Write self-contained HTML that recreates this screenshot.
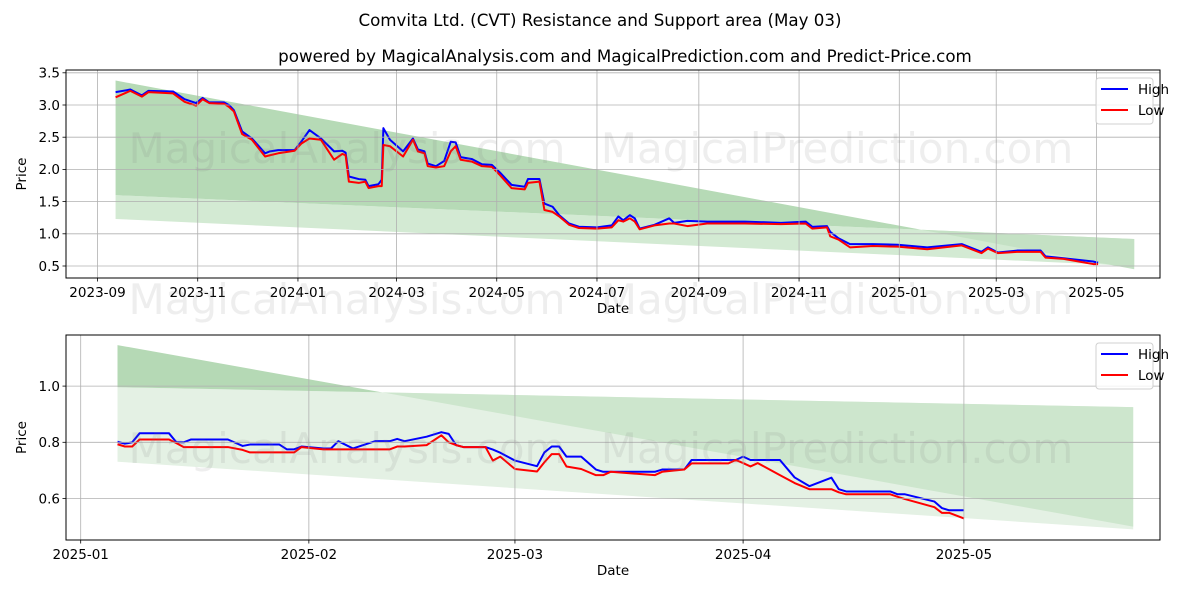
<!DOCTYPE html>
<html><head><meta charset="utf-8">
<style>
html,body{margin:0;padding:0;background:#fff;}
svg{display:block;font-family:"DejaVu Sans","Liberation Sans",sans-serif;}
</style></head>
<body>
<svg id="chart" width="1200" height="600" viewBox="0 0 1200 600" xmlns="http://www.w3.org/2000/svg">
<text x="600" y="26" text-anchor="middle" font-size="16.7" fill="#000">Comvita Ltd. (CVT) Resistance and Support area (May 03)</text>
<text x="625" y="62" text-anchor="middle" font-size="16.7" fill="#000">powered by MagicalAnalysis.com and MagicalPrediction.com and Predict-Price.com</text>
<g id="top"></g>
<g id="bot"></g>
</svg>
<script>
// ---------- Top chart data ----------
const topDates = ["2023-09-12","2023-09-21","2023-09-28","2023-10-02","2023-10-17","2023-10-24","2023-10-31","2023-11-04","2023-11-08","2023-11-17","2023-11-20","2023-11-23","2023-11-28","2023-12-04","2023-12-12","2023-12-15","2023-12-20","2023-12-30","2024-01-03","2024-01-08","2024-01-15","2024-01-23","2024-01-28","2024-01-30","2024-02-01","2024-02-07","2024-02-11","2024-02-13","2024-02-19","2024-02-21","2024-02-22","2024-02-26","2024-03-05","2024-03-11","2024-03-14","2024-03-18","2024-03-20","2024-03-25","2024-03-30","2024-04-03","2024-04-06","2024-04-09","2024-04-16","2024-04-22","2024-04-28","2024-05-03","2024-05-10","2024-05-18","2024-05-20","2024-05-27","2024-05-30","2024-06-04","2024-06-08","2024-06-14","2024-06-20","2024-07-01","2024-07-10","2024-07-14","2024-07-17","2024-07-21","2024-07-24","2024-07-27","2024-08-05","2024-08-14","2024-08-17","2024-08-25","2024-09-06","2024-09-29","2024-10-21","2024-11-05","2024-11-09","2024-11-18","2024-11-20","2024-11-25","2024-12-02","2024-12-16","2024-12-31","2025-01-18","2025-02-08","2025-02-20","2025-02-24","2025-03-02","2025-03-14","2025-03-28","2025-03-31","2025-04-11","2025-04-29","2025-05-02"];
const topHigh = [3.20,3.24,3.15,3.22,3.21,3.09,3.03,3.11,3.04,3.04,3.00,2.92,2.59,2.48,2.25,2.28,2.30,2.30,2.43,2.61,2.48,2.28,2.29,2.26,1.89,1.85,1.84,1.74,1.77,1.84,2.64,2.46,2.28,2.48,2.31,2.28,2.09,2.05,2.13,2.43,2.42,2.19,2.16,2.08,2.07,1.95,1.76,1.73,1.85,1.85,1.47,1.42,1.29,1.16,1.11,1.10,1.13,1.27,1.21,1.29,1.24,1.08,1.14,1.24,1.17,1.20,1.19,1.19,1.17,1.19,1.11,1.12,1.03,0.93,0.84,0.84,0.83,0.79,0.84,0.72,0.79,0.71,0.74,0.74,0.65,0.62,0.57,0.55];
const topLow = [3.12,3.22,3.13,3.20,3.18,3.05,2.99,3.09,3.03,3.02,2.97,2.90,2.55,2.46,2.20,2.22,2.25,2.29,2.40,2.48,2.46,2.15,2.24,2.22,1.81,1.79,1.81,1.71,1.74,1.74,2.38,2.36,2.20,2.46,2.28,2.25,2.05,2.03,2.05,2.28,2.36,2.15,2.12,2.05,2.04,1.91,1.71,1.69,1.79,1.81,1.37,1.34,1.27,1.14,1.09,1.08,1.10,1.21,1.19,1.24,1.19,1.07,1.13,1.16,1.16,1.12,1.16,1.16,1.15,1.16,1.08,1.10,0.96,0.91,0.79,0.81,0.80,0.76,0.82,0.70,0.77,0.70,0.72,0.72,0.63,0.61,0.53,0.53];
const topTicksY = [0.5,1.0,1.5,2.0,2.5,3.0,3.5];
const topTicksX = ["2023-09","2023-11","2024-01","2024-03","2024-05","2024-07","2024-09","2024-11","2025-01","2025-03","2025-05"];
const topBandDates = ["2023-09-12","2025-05-24"];
const topBandA = [3.38,0.45];
const topBandB = [1.60,0.92];
const topBandC = [1.23,0.50];

// ---------- Bottom chart data ----------
const botDates = ["2025-01-06","2025-01-07","2025-01-08","2025-01-09","2025-01-13","2025-01-14","2025-01-15","2025-01-16","2025-01-21","2025-01-23","2025-01-24","2025-01-28","2025-01-29","2025-01-30","2025-01-31","2025-02-03","2025-02-04","2025-02-05","2025-02-07","2025-02-10","2025-02-12","2025-02-13","2025-02-14","2025-02-17","2025-02-19","2025-02-20","2025-02-21","2025-02-22","2025-02-25","2025-02-26","2025-02-27","2025-03-01","2025-03-04","2025-03-05","2025-03-06","2025-03-07","2025-03-08","2025-03-10","2025-03-12","2025-03-13","2025-03-14","2025-03-20","2025-03-21","2025-03-24","2025-03-25","2025-03-30","2025-03-31","2025-04-01","2025-04-02","2025-04-03","2025-04-06","2025-04-08","2025-04-10","2025-04-13","2025-04-14","2025-04-15","2025-04-21","2025-04-22","2025-04-23","2025-04-27","2025-04-28","2025-04-29","2025-05-01"];
const botHigh = [0.802,0.795,0.800,0.832,0.832,0.800,0.800,0.810,0.810,0.787,0.792,0.792,0.775,0.775,0.785,0.778,0.778,0.804,0.778,0.804,0.804,0.812,0.804,0.820,0.836,0.830,0.790,0.783,0.783,0.774,0.763,0.735,0.715,0.764,0.785,0.785,0.749,0.749,0.703,0.695,0.695,0.695,0.703,0.703,0.737,0.737,0.737,0.749,0.737,0.737,0.737,0.675,0.644,0.674,0.633,0.625,0.625,0.615,0.615,0.589,0.566,0.558,0.558];
const botLow = [0.793,0.785,0.785,0.810,0.810,0.797,0.783,0.783,0.783,0.773,0.764,0.764,0.764,0.764,0.783,0.775,0.775,0.775,0.775,0.775,0.775,0.785,0.785,0.790,0.825,0.800,0.790,0.783,0.783,0.735,0.749,0.705,0.696,0.729,0.758,0.758,0.714,0.705,0.683,0.683,0.695,0.683,0.695,0.703,0.725,0.725,0.737,0.726,0.714,0.726,0.683,0.655,0.633,0.633,0.622,0.615,0.615,0.606,0.598,0.569,0.549,0.549,0.529];
const botTicksY = [0.6,0.8,1.0];
const botTicksX = ["2025-01","2025-02","2025-03","2025-04","2025-05"];
const botBandDates = ["2025-01-06","2025-05-24"];
const botBandA = [1.146,0.50];
const botBandB = [0.996,0.925];
const botBandC = [0.731,0.49];

const NS = "http://www.w3.org/2000/svg";
function mk(parent, tag, attrs){ const e=document.createElementNS(NS,tag); for(const k in attrs) e.setAttribute(k,attrs[k]); parent.appendChild(e); return e; }
function dnum(s){ const p=s.split("-").map(Number); return Date.UTC(p[0],p[1]-1,p[2]||1)/86400000; }

function drawPanel(g, cfg){
  const {L,R,T,B,x0date,x0px,pxPerDay,y0v,y0px,pxPerUnit} = cfg;
  const X = d => x0px + (dnum(d)-dnum(x0date))*pxPerDay;
  const Y = v => y0px - (v-y0v)*pxPerUnit;
  const clipId = cfg.id+"clip";
  const defs = mk(g,"defs",{});
  const cp = mk(defs,"clipPath",{id:clipId});
  mk(cp,"rect",{x:L,y:T,width:R-L,height:B-T});
  const plot = mk(g,"g",{"clip-path":"url(#"+clipId+")"});
  
  
  const xs = cfg.bandDates.map(X);
  const A = cfg.bandA, Bb = cfg.bandB, C = cfg.bandC;
  const light = mk(plot,"polygon",{points:[[xs[0],Y(Bb[0])],[xs[1],Y(Bb[1])],[xs[1],Y(C[1])],[xs[0],Y(C[0])]].map(p=>p.join(",")).join(" "),fill:cfg.lightColor});
  
  
  const d0 = A[0]-Bb[0], d1 = A[1]-Bb[1];
  const t = d0/(d0-d1);
  const xc = xs[0]+t*(xs[1]-xs[0]);
  const vc = Bb[0]+t*(Bb[1]-Bb[0]);
  const pre = mk(plot,"polygon",{points:[[xs[0],Y(A[0])],[xc,Y(vc)],[xs[0],Y(Bb[0])]].map(p=>p.join(",")).join(" "),fill:cfg.darkColor});
  
  
  const post = mk(plot,"polygon",{points:[[xc,Y(vc)],[xs[1],Y(Bb[1])],[xs[1],Y(A[1])]].map(p=>p.join(",")).join(" "),fill:cfg.midColor});
  
  
  cfg.ticksY.forEach(v=>{
    const gl = mk(g,"line",{x1:L,x2:R,y1:Y(v),y2:Y(v),stroke:"#b0b0b0","stroke-width":0.8});
    
    
    mk(g,"line",{x1:L-3.5,x2:L,y1:Y(v),y2:Y(v),stroke:"#000","stroke-width":0.8});
    const tl = mk(g,"text",{x:L-6,y:Y(v)+4.8,"text-anchor":"end","font-size":13.5,fill:"#000"});
    tl.textContent = v.toFixed(1);
    
    
  });
  cfg.ticksX.forEach(s=>{
    const x = X(s+"-01");
    const gl = mk(g,"line",{x1:x,x2:x,y1:T,y2:B,stroke:"#b0b0b0","stroke-width":0.8});
    
    
    mk(g,"line",{x1:x,x2:x,y1:B,y2:B+3.5,stroke:"#000","stroke-width":0.8});
    const tl = mk(g,"text",{x:x,y:B+19,"text-anchor":"middle","font-size":13.5,fill:"#000"});
    tl.textContent = s;
    
    
  });
  cfg.wm.forEach(w=>{
    const t2 = mk(g,"text",{x:w[1],y:w[2],"text-anchor":"middle","font-size":42,fill:"rgba(120,120,120,0.13)"});
    t2.textContent = w[0];
    
    
  });
  const hp = mk(plot,"polyline",{points:cfg.dates.map((d,i)=>X(d)+","+Y(cfg.high[i])).join(" "),fill:"none",stroke:"#0000ff","stroke-width":2,"stroke-linejoin":"round"});
  
  
  const lp = mk(plot,"polyline",{points:cfg.dates.map((d,i)=>X(d)+","+Y(cfg.low[i])).join(" "),fill:"none",stroke:"#ff0000","stroke-width":2,"stroke-linejoin":"round"});
  
  
  const fr = mk(g,"rect",{x:L,y:T,width:R-L,height:B-T,fill:"none",stroke:"#000","stroke-width":1});
  
  
  const xl = mk(g,"text",{x:(L+R)/2,y:B+35,"text-anchor":"middle","font-size":13.5,fill:"#000"});
  xl.textContent="Date";
  
  
  const yl = mk(g,"text",{x:0,y:0,"text-anchor":"middle","font-size":13.5,fill:"#000",transform:"translate(26,"+((T+B)/2)+") rotate(-90)"});
  yl.textContent="Price";
  
  
  const lg = mk(g,"g",{});
  
  
  const ly = T+8;
  mk(lg,"rect",{x:1096,y:ly,width:57,height:46,rx:3,fill:"#fff","fill-opacity":0.8,stroke:"#d0d0d0","stroke-width":1});
  [["High","#0000ff"],["Low","#ff0000"]].forEach((e,i)=>{
    const en = mk(lg,"g",{});
    
    
    mk(en,"line",{x1:1101,x2:1128,y1:ly+11+i*21,y2:ly+11+i*21,stroke:e[1],"stroke-width":2});
    const tx = mk(en,"text",{x:1138,y:ly+16+i*21,"font-size":13.5,fill:"#000"});
    tx.textContent=e[0];
  });
}

drawPanel(document.getElementById("top"),{
  id:"top",L:66,R:1160,T:70,B:278,x0date:"2023-09-01",x0px:97.5,pxPerDay:1.643,y0v:0.5,y0px:266,pxPerUnit:64.4,
  dates:topDates,high:topHigh,low:topLow,ticksY:topTicksY,ticksX:topTicksX,
  bandDates:topBandDates,bandA:topBandA,bandB:topBandB,bandC:topBandC,
  darkColor:"#b6dab6",midColor:"#c4e1c4",lightColor:"#d3ead3",
  wm:[["MagicalAnalysis.com",347,163],["MagicalPrediction.com",837,163],["MagicalAnalysis.com",347,314],["MagicalPrediction.com",837,314]]
});
drawPanel(document.getElementById("bot"),{
  id:"bottom",L:66,R:1160,T:335,B:540,x0date:"2025-01-01",x0px:80.7,pxPerDay:7.36,y0v:0.8,y0px:442.3,pxPerUnit:281,
  dates:botDates,high:botHigh,low:botLow,ticksY:botTicksY,ticksX:botTicksX,
  bandDates:botBandDates,bandA:botBandA,bandB:botBandB,bandC:botBandC,
  darkColor:"#b5d9b5",midColor:"#cde6cd",lightColor:"#e4f1e4",
  wm:[["MagicalAnalysis.com",347,463],["MagicalPrediction.com",837,463]]
});
</script>
</body></html>
